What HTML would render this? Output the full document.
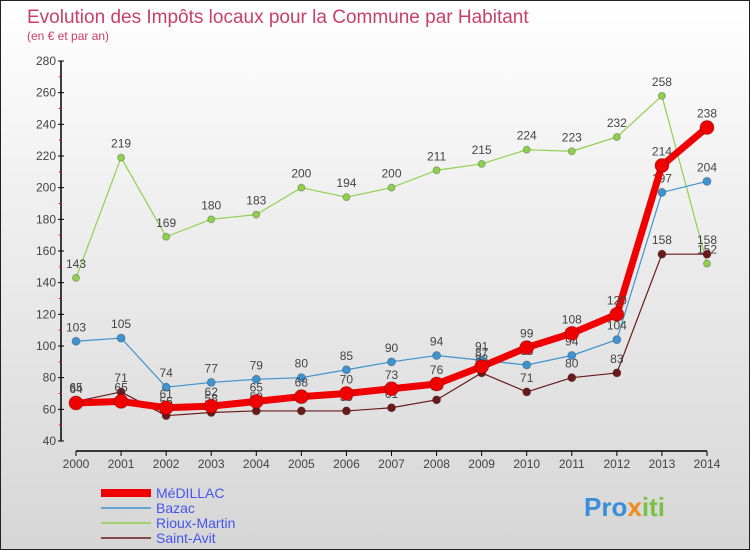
<!DOCTYPE html>
<html><head><meta charset="utf-8"><style>
body{margin:0}
#c{width:750px;height:550px;position:relative;overflow:hidden;border:1px solid #222;box-sizing:border-box;background:linear-gradient(#ffffff,#f2f2f2 30%,#d6d6d6);font-family:"Liberation Sans",sans-serif}
svg{position:absolute;left:0;top:0}
</style></head><body>
<div id="c">
<svg id="s" width="750" height="550">
<text x="26" y="22" font-size="19" fill="#c8406a">Evolution des Impôts locaux pour la Commune par Habitant</text>
<text x="26" y="39" font-size="12" fill="#c8406a">(en € et par an)</text>
<g id="axes"></g><g id="plot"></g><g id="legend"></g>
<text x="583" y="515" font-size="26" font-weight="bold" fill="#3a8fd8">Pro<tspan fill="#f08a1a">x</tspan><tspan fill="#7ac143">iti</tspan></text>
</svg></div>
<script>
const years=[2000,2001,2002,2003,2004,2005,2006,2007,2008,2009,2010,2011,2012,2013,2014];
const yTicks=[40,60,80,100,120,140,160,180,200,220,240,260,280];
const medillac=[64,65,61,62,65,68,70,73,76,87,99,108,120,214,238];
const bazac=[103,105,74,77,79,80,85,90,94,91,88,94,104,197,204];
const rioux=[143,219,169,180,183,200,194,200,211,215,224,223,232,258,152];
const saintAvit=[65,71,56,58,59,59,59,61,66,83,71,80,83,158,158];
const NS="http://www.w3.org/2000/svg";
const xS=i=>75+i*(706-75)/(years.length-1);
const yS=v=>440-(v-40)*(380/240);
function mk(t,a,p){const e=document.createElementNS(NS,t);for(const k in a)e.setAttribute(k,a[k]);p.appendChild(e);return e;}
const ax=document.getElementById('axes');
const yl=mk('line',{x1:60,y1:60,x2:60,y2:440,stroke:'#000','stroke-width':1.5},ax);


const xl=mk('line',{x1:75,y1:450,x2:706,y2:450,stroke:'#000','stroke-width':1.5},ax);


yTicks.forEach((v,i)=>{
  mk('line',{x1:57,x2:63,y1:yS(v),y2:yS(v),stroke:'#000'},ax);
  if(i<yTicks.length-1) mk('line',{x1:58,x2:61,y1:yS(v+10),y2:yS(v+10),stroke:'#e00'},ax);
  const t=mk('text',{x:55,y:yS(v)+4,'font-size':12,fill:'#444','text-anchor':'end'},ax);t.textContent=v;
  
  
});
years.forEach((y,i)=>{
  mk('line',{x1:xS(i),x2:xS(i),y1:450,y2:455,stroke:'#000'},ax);
  const t=mk('text',{x:xS(i),y:467,'font-size':12,fill:'#444','text-anchor':'middle'},ax);t.textContent=y;
  
  
});
const pl=document.getElementById('plot');
function series(d,col,lw,r,name){
  const g=mk('g',{},pl);
  
  
  mk('polyline',{points:d.map((v,i)=>xS(i)+','+yS(v)).join(' '),fill:'none',stroke:col,'stroke-width':lw,'stroke-linejoin':'round'},g);
  d.forEach((v,i)=>{
    const c=mk('circle',{cx:xS(i),cy:yS(v),r:r,fill:col,stroke:'rgba(0,0,0,0.25)'},g);
    
    
    const t=mk('text',{x:xS(i),y:yS(v)-10,'font-size':12,fill:'#444','text-anchor':'middle'},g);t.textContent=v;
    
    
  });
}
series(rioux,'#8fd14f',1.2,3.5,'rioux-martin-series');
series(bazac,'#3f93d0',1.2,4,'bazac-series');
series(saintAvit,'#6b1a1a',1.2,4,'saint-avit-series');
series(medillac,'#f00000',7,7,'medillac-series');
const lg=document.getElementById('legend');
const items=[['MéDILLAC','#f00000',8],['Bazac','#3f93d0',1.5],['Rioux-Martin','#8fd14f',1.5],['Saint-Avit','#6b1a1a',1.5]];
items.forEach((it,i)=>{
  const y=492+i*15;
  const g=mk('g',{},lg);
  
  
  mk('line',{x1:100,x2:150,y1:y,y2:y,stroke:it[1],'stroke-width':it[2]},g);
  const t=mk('text',{x:155,y:y+5,'font-size':14,fill:'#4455ee'},g);t.textContent=it[0];
});
</script></body></html>
